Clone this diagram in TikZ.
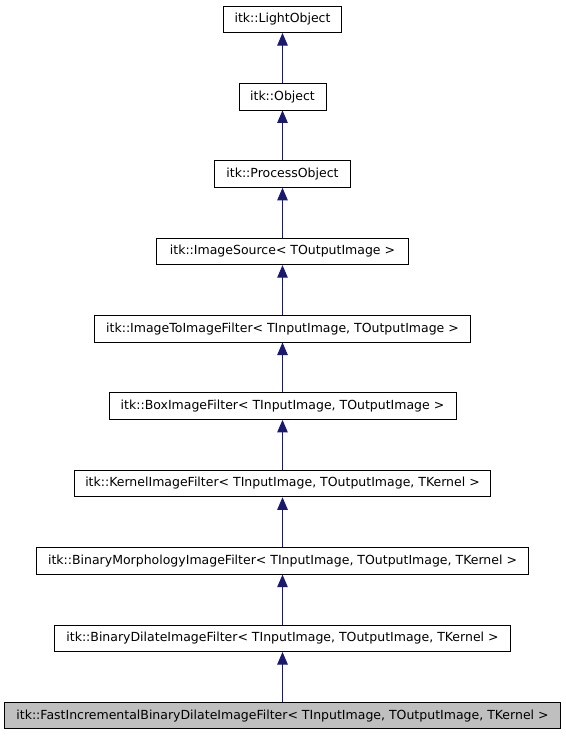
\documentclass[tikz,border=0pt]{standalone}
\usepackage{fontspec}
\setmainfont{DejaVu Sans}
\usetikzlibrary{arrows.meta}
\definecolor{edgeblue}{HTML}{191970}
\definecolor{hl}{HTML}{BFBFBF}
\begin{document}
\begin{tikzpicture}[x=1pt,y=-1pt,
  cls/.style={draw=black, line width=0.9pt, fill=white, minimum height=26.6pt, inner sep=0pt, font=\fontsize{12.5pt}{14pt}\selectfont, anchor=center},
  inh/.style={draw=edgeblue, line width=0.9pt, -{Triangle[length=12.5pt,width=10.5pt,fill=edgeblue]}}]
\useasboundingbox (0,0) rectangle (565,736);
\def\cy#1{19.3+77.37*#1}
\node[cls, minimum width=118.4pt] (n0) at (282.5,{\cy{0}}) {itk::LightObject};
\node[cls, minimum width=87pt] (n1) at (282.5,{\cy{1}}) {itk::Object};
\node[cls, minimum width=136.7pt] (n2) at (282.5,{\cy{2}}) {itk::ProcessObject};
\node[cls, minimum width=251.6pt] (n3) at (282.5,{\cy{3}}) {itk::ImageSource< TOutputImage >};
\node[cls, minimum width=375.7pt] (n4) at (282.5,{\cy{4}}) {itk::ImageToImageFilter< TInputImage, TOutputImage >};
\node[cls, minimum width=347pt] (n5) at (282.5,{\cy{5}}) {itk::BoxImageFilter< TInputImage, TOutputImage >};
\node[cls, minimum width=416.7pt] (n6) at (282.5,{\cy{6}}) {itk::KernelImageFilter< TInputImage, TOutputImage, TKernel >};
\node[cls, minimum width=491.6pt] (n7) at (282.5,{\cy{7}}) {itk::BinaryMorphologyImageFilter< TInputImage, TOutputImage, TKernel >};
\node[cls, minimum width=455.7pt] (n8) at (282.5,{\cy{8}}) {itk::BinaryDilateImageFilter< TInputImage, TOutputImage, TKernel >};
\node[cls, fill=hl, minimum width=555.7pt] (n9) at (282.5,{\cy{9}}) {itk::FastIncrementalBinaryDilateImageFilter< TInputImage, TOutputImage, TKernel >};
\foreach \a/\b in {n1/n0,n2/n1,n3/n2,n4/n3,n5/n4,n6/n5,n7/n6,n8/n7,n9/n8}
  \draw[inh] (\a.north) -- (\b.south);
\end{tikzpicture}
\end{document}
